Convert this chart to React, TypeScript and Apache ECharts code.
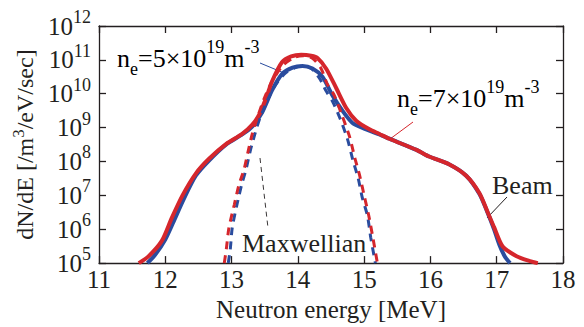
import React, { useEffect, useRef } from "react";
import * as echarts from "echarts";

// ---- Data ----
const xTicks = [11, 12, 13, 14, 15, 16, 17, 18];
const yExponents = [5, 6, 7, 8, 9, 10, 11, 12];

// n_e = 7e19 (red), beam-driven spectrum
const redBeamE = [11.6, 11.75, 11.95, 12.1, 12.26, 12.46, 12.66, 12.92, 13.16, 13.31, 13.42, 13.52, 13.61, 13.76, 13.9, 14.05, 14.2, 14.3, 14.43, 14.58, 14.73, 14.88, 15.08, 15.23, 15.38, 15.79, 15.98, 16.28, 16.54, 16.74, 16.86, 16.96, 17.09, 17.3, 17.5, 17.62];
const redBeamV = [1.0e5, 1.6e5, 4.6e5, 2.2e6, 1.0e7, 4.4e7, 1.2e8, 3.3e8, 6.5e8, 1.2e9, 2.5e9, 7.4e9, 2.3e10, 8.5e10, 1.26e11, 1.41e11, 1.32e11, 1.12e11, 5.4e10, 1.45e10, 3.8e9, 1.6e9, 8.9e8, 6.5e8, 4.7e8, 2.2e8, 1.4e8, 8.3e7, 3.8e7, 1.15e7, 3.3e6, 1.15e6, 3.1e5, 1.6e5, 1.15e5, 1.0e5];

// n_e = 5e19 (blue), beam-driven spectrum
const blueBeamE = [11.73, 11.85, 12.0, 12.12, 12.28, 12.46, 12.66, 12.92, 13.16, 13.31, 13.46, 13.61, 13.76, 13.92, 14.07, 14.22, 14.37, 14.52, 14.67, 14.82, 15.0, 15.23, 15.38, 15.79, 15.98, 16.28, 16.54, 16.74, 16.86, 16.96, 17.04, 17.12, 17.2];
const blueBeamV = [1.0e5, 1.8e5, 5.0e5, 1.6e6, 7.9e6, 3.8e7, 1.07e8, 3.2e8, 6.3e8, 1.07e9, 2.8e9, 1.26e10, 3.8e10, 5.9e10, 6.6e10, 5.6e10, 3.2e10, 9.1e9, 3.2e9, 1.4e9, 9.3e8, 6.3e8, 4.7e8, 2.2e8, 1.4e8, 8.3e7, 3.8e7, 1.1e7, 3.2e6, 1.0e6, 3.5e5, 1.6e5, 1.0e5];

// Maxwellian (dashed)
const redMaxE = [12.89, 12.92, 12.96, 13.04, 13.11, 13.19, 13.25, 13.31, 13.39, 13.5, 13.62, 13.78, 13.95, 14.08, 14.22, 14.35, 14.44, 14.55, 14.67, 14.78, 14.86, 14.93, 15.0, 15.07, 15.13, 15.2];
const redMaxV = [1.0e5, 2.5e5, 1.1e6, 5.2e6, 2.0e7, 6.0e7, 2.0e8, 6.3e8, 2.0e9, 7.9e9, 2.5e10, 7.1e10, 1.2e11, 1.32e11, 1.12e11, 5.6e10, 2.0e10, 8.9e9, 2.2e9, 5.4e8, 1.26e8, 4.0e7, 1.0e7, 2.5e6, 5.9e5, 1.0e5];
const blueMaxE = [12.95, 12.98, 13.01, 13.08, 13.15, 13.22, 13.28, 13.35, 13.43, 13.54, 13.66, 13.82, 13.97, 14.07, 14.2, 14.33, 14.42, 14.53, 14.64, 14.75, 14.83, 14.91, 14.97, 15.05, 15.1, 15.17];
const blueMaxV = [1.0e5, 2.5e5, 1.1e6, 5.2e6, 2.0e7, 6.0e7, 2.0e8, 6.3e8, 2.0e9, 6.3e9, 1.8e10, 4.2e10, 6.0e10, 6.6e10, 5.6e10, 2.8e10, 1.26e10, 5.6e9, 1.8e9, 4.5e8, 1.1e8, 3.2e7, 8.9e6, 2.5e6, 5.6e5, 1.0e5];

const RED = "#d5262c";
const BLUE = "#2a4c9e";
const INK = "#231f20";
const FONT = "Times New Roman";

const pairs = (xs: number[], ys: number[]) => xs.map((x, i) => [x, ys[i]]);

const annRich = (color: string) => ({
  a: { fontSize: 26, fontFamily: FONT, color, lineHeight: 40 },
  sup: { fontSize: 18, fontFamily: FONT, color, lineHeight: 14, verticalAlign: "top" },
  sub: { fontSize: 18, fontFamily: FONT, color, lineHeight: 10, verticalAlign: "bottom" },
});

export default function App() {
  const ref = useRef<HTMLDivElement>(null);
  useEffect(() => {
    document.body.style.margin = "0";
    const chart = echarts.init(ref.current!, null, { renderer: "svg" });
    const axisLineStyle = { color: INK, width: 1.3 };
    const tick = { show: true, inside: true, length: 7, lineStyle: { color: INK, width: 1.3 } };
    const lineBase = { type: "line", showSymbol: false, smooth: 0.25, clip: true };
    chart.setOption({
      animation: false,
      textStyle: { fontFamily: FONT },
      grid: { left: 99, right: 21, top: 26, bottom: 56 },
      xAxis: [
        {
          type: "value", min: xTicks[0], max: xTicks[xTicks.length - 1], interval: 1,
          axisLine: { lineStyle: axisLineStyle }, axisTick: tick, splitLine: { show: false },
          axisLabel: { color: INK, fontSize: 25, fontFamily: FONT, margin: 4 },
          name: "Neutron energy [MeV]", nameLocation: "middle", nameGap: 22,
          nameTextStyle: { color: INK, fontSize: 25, fontFamily: FONT },
        },
        {
          type: "value", position: "top", min: xTicks[0], max: xTicks[xTicks.length - 1], interval: 1,
          axisLine: { lineStyle: axisLineStyle }, axisTick: tick, splitLine: { show: false },
          axisLabel: { show: false },
        },
      ],
      yAxis: [
        {
          type: "log", logBase: 10, min: Math.pow(10, yExponents[0]), max: Math.pow(10, yExponents[yExponents.length - 1]), interval: 1,
          axisLine: { lineStyle: axisLineStyle }, axisTick: tick, splitLine: { show: false },
          axisLabel: {
            margin: 8,
            fontFamily: FONT,
            formatter: (v: number) => "{b|10}{s|" + Math.round(Math.log10(v)) + "}",
            rich: {
              b: { fontSize: 25, fontFamily: FONT, color: INK, lineHeight: 36 },
              s: { fontSize: 18, fontFamily: FONT, color: INK, lineHeight: 18, verticalAlign: "top" },
            },
          },
          name: "{a|dN/dE [/m}{s|3}{a|/eV/sec]}", nameLocation: "middle", nameGap: 50, nameRotate: 90,
          nameTextStyle: {
            fontFamily: FONT,
            rich: {
              a: { fontSize: 24, fontFamily: FONT, color: INK, lineHeight: 30 },
              s: { fontSize: 17, fontFamily: FONT, color: INK, lineHeight: 14, verticalAlign: "top" },
            },
          },
        },
        {
          type: "log", logBase: 10, position: "right", min: Math.pow(10, yExponents[0]), max: Math.pow(10, yExponents[yExponents.length - 1]), interval: 1,
          axisLine: { lineStyle: axisLineStyle }, axisTick: tick, splitLine: { show: false },
          axisLabel: { show: false },
        },
      ],
      series: [
        { ...lineBase, name: "blue beam", data: pairs(blueBeamE, blueBeamV), lineStyle: { color: BLUE, width: 4 }, itemStyle: { color: BLUE } },
        { ...lineBase, name: "red beam", data: pairs(redBeamE, redBeamV), lineStyle: { color: RED, width: 4 }, itemStyle: { color: RED } },
        { ...lineBase, name: "blue maxwellian", data: pairs(blueMaxE, blueMaxV), lineStyle: { color: BLUE, width: 3, type: [8, 6] }, itemStyle: { color: BLUE } },
        { ...lineBase, name: "red maxwellian", data: pairs(redMaxE, redMaxV), lineStyle: { color: RED, width: 3, type: [8, 6] }, itemStyle: { color: RED } },
      ],
      graphic: [
        {
          type: "text", x: 117, y: 58,
          style: { text: "{a|n}{sub|e}{a|=5×10}{sup|19}{a|m}{sup|-3}", rich: annRich(BLUE), fontFamily: FONT, verticalAlign: "middle", align: "left" },
        },
        { type: "line", shape: { x1: 260, y1: 63, x2: 284, y2: 73 }, style: { stroke: BLUE, lineWidth: 1 } },
        {
          type: "text", x: 397, y: 98,
          style: { text: "{a|n}{sub|e}{a|=7×10}{sup|19}{a|m}{sup|-3}", rich: annRich(RED), fontFamily: FONT, verticalAlign: "middle", align: "left" },
        },
        { type: "line", shape: { x1: 413, y1: 122, x2: 390, y2: 139 }, style: { stroke: RED, lineWidth: 1 } },
        {
          type: "text", x: 492, y: 185,
          style: { text: "Beam", fill: INK, fontSize: 26, fontFamily: FONT, verticalAlign: "middle", align: "left" },
        },
        { type: "line", shape: { x1: 507, y1: 197, x2: 487, y2: 218 }, style: { stroke: INK, lineWidth: 1 } },
        {
          type: "text", x: 242, y: 243,
          style: { text: "Maxwellian", fill: INK, fontSize: 26, fontFamily: FONT, verticalAlign: "middle", align: "left" },
        },
        { type: "line", shape: { x1: 260, y1: 158, x2: 268, y2: 228 }, style: { stroke: INK, lineWidth: 0.9, lineDash: [5, 4] } },
      ],
    });
    return () => chart.dispose();
  }, []);
  return <div ref={ref} style={{ position: "absolute", left: 0, top: 0, width: 584, height: 327 }} />;
}
